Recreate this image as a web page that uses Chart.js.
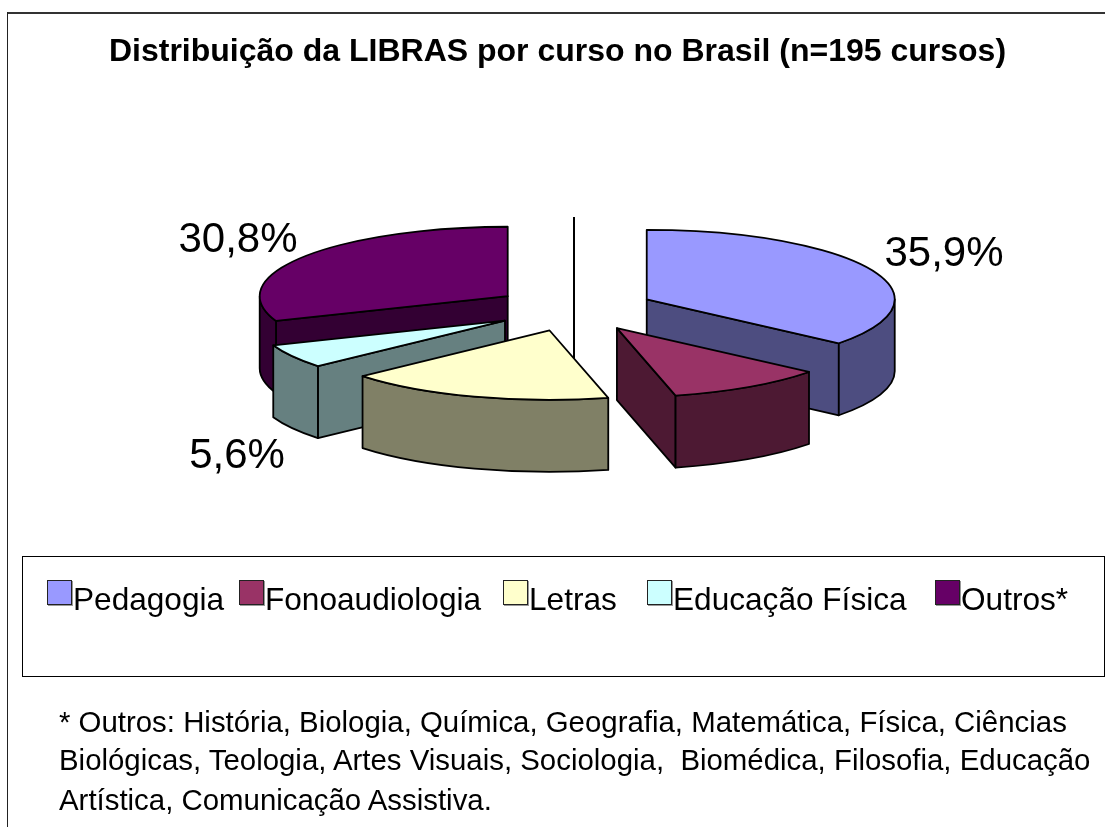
<!DOCTYPE html>
<html>
<head>
<meta charset="utf-8">
<title>Distribuição da LIBRAS por curso no Brasil</title>
<script src="https://cdn.jsdelivr.net/npm/chart.js@4"></script>
<style>
html, body { margin: 0; padding: 0; background: #fff; }
body { position: relative; width: 1105px; height: 827px; overflow: hidden; font-family: "Liberation Sans", Arial, sans-serif; color: #000; }
#pie_chart { position: absolute; left: 0; top: 0; }
#frame_top { position: absolute; left: 7px; top: 12px; width: 1098px; height: 2px; background: #333; }
#frame_left { position: absolute; left: 7px; top: 12px; width: 1px; height: 815px; background: #222; }
#legend_box { position: absolute; left: 22px; top: 556px; width: 1081px; height: 119px; border: 1px solid #000; }
.legend_mark { position: absolute; top: 580px; width: 23px; height: 23px; border: 1.5px solid #222; box-shadow: 1px 1px 0 #999; }
.legend_text { position: absolute; top: 581px; font-size: 31.6px; line-height: 36px; white-space: pre; }
.note_line { position: absolute; left: 59px; font-size: 29.4px; line-height: 32px; white-space: pre; }
</style>
</head>
<body>
<canvas id="pie_chart" width="1105" height="827"></canvas>
<div id="frame_top"></div>
<div id="frame_left"></div>
<div id="legend_box"></div>
<div id="legend_items"></div>
<div id="notes"></div>

<script>
var chart_title = "Distribuição da LIBRAS por curso no Brasil (n=195 cursos)";
var course_labels = ["Pedagogia", "Fonoaudiologia", "Letras", "Educação Física", "Outros*"];
var course_values = [35.9, 10.3, 17.4, 5.6, 30.8];
var shown_labels = [true, false, false, true, true];
var top_colors = ["#9999FF", "#993366", "#FFFFCC", "#CCFFFF", "#660066"];
var side_colors = ["#4D4D80", "#4D1933", "#808066", "#668080", "#330033"];
var note_lines = [
	"* Outros: História, Biologia, Química, Geografia, Matemática, Física, Ciências",
	"Biológicas, Teologia, Artes Visuais, Sociologia,  Biomédica, Filosofia, Educação",
	"Artística, Comunicação Assistiva."
];

// layout only
var pie_radius = 248, pie_y = 309, pie_shift = 16.5, tilt = 0.28, depth = 72, explode = 80.5;
var label_shift = [[370, -55], null, null, [-337, 147], [-336, -69]];
var legend_mark_x = [47, 239, 503, 647, 935];
var legend_text_x = [73, 265, 529, 673, 961];
var note_y = [706, 744, 784];

function slice_path(ctx, cx, cy, a0, a1) {
	ctx.beginPath();
	ctx.ellipse(cx, cy, pie_radius, pie_radius * tilt, 0, a0, a1);
	ctx.lineTo(cx, cy);
	ctx.closePath();
}

function edge_wall(ctx, cx, cy, a) {
	var ex = cx + Math.cos(a) * pie_radius;
	var ey = cy + Math.sin(a) * pie_radius * tilt;
	ctx.beginPath();
	ctx.moveTo(cx, cy);
	ctx.lineTo(ex, ey);
	ctx.lineTo(ex, ey + depth);
	ctx.lineTo(cx, cy + depth);
	ctx.closePath();
	ctx.fill();
	ctx.stroke();
}

function draw_slice(chart, arc, i) {
	var ctx = chart.ctx;
	var p = arc.getProps(["x", "y", "startAngle", "endAngle"], true);
	var mid = (p.startAngle + p.endAngle) / 2;
	var cx = p.x + pie_shift + Math.cos(mid) * explode;
	var cy = pie_y + Math.sin(mid) * explode * tilt;

	ctx.save();
	ctx.fillStyle = side_colors[i];
	ctx.strokeStyle = "#000";
	ctx.lineWidth = 1.8;
	ctx.lineJoin = "round";

	// straight walls that face the viewer
	if (Math.cos(p.startAngle) < -0.001) edge_wall(ctx, cx, cy, p.startAngle);
	if (Math.cos(p.endAngle) > 0.001) edge_wall(ctx, cx, cy, p.endAngle);

	// curved wall, front half only
	var lo = Math.max(p.startAngle, 0), hi = Math.min(p.endAngle, Math.PI);
	if (hi > lo) {
		ctx.beginPath();
		ctx.ellipse(cx, cy, pie_radius, pie_radius * tilt, 0, lo, hi);
		ctx.ellipse(cx, cy + depth, pie_radius, pie_radius * tilt, 0, hi, lo, true);
		ctx.closePath();
		ctx.fill();
		ctx.stroke();
	}

	// top face is the library's own arc, flattened
	ctx.save();
	ctx.translate(cx - p.x, cy);
	ctx.scale(1, tilt);
	ctx.translate(0, -p.y);
	arc.draw(ctx);
	ctx.restore();

	slice_path(ctx, cx, cy, p.startAngle, p.endAngle);
	ctx.stroke();
	ctx.restore();
}

var pie3d = {
	id: "pie3d",
	beforeDatasetsDraw: function(chart) {
		var ctx = chart.ctx;
		var arcs = chart.getDatasetMeta(0).data;
		var x = arcs[0].x + pie_shift;

		// leader line behind the slices
		ctx.save();
		ctx.strokeStyle = "#000";
		ctx.lineWidth = 2;
		ctx.beginPath();
		ctx.moveTo(x, pie_y - 92);
		ctx.lineTo(x, pie_y + 70);
		ctx.stroke();
		ctx.restore();

		var order = arcs.map(function(a, i) { return i; });
		function depth_key(i) {
			return Math.sin((arcs[i].startAngle + arcs[i].endAngle) / 2);
		}
		order.sort(function(a, b) { return depth_key(a) - depth_key(b); });
		order.forEach(function(i) { draw_slice(chart, arcs[i], i); });
		return false;
	},
	afterDraw: function(chart) {
		var ctx = chart.ctx;
		var x = chart.getDatasetMeta(0).data[0].x + pie_shift;
		ctx.save();
		ctx.fillStyle = "#000";
		ctx.font = '42px "Liberation Sans", Arial, sans-serif';
		ctx.textAlign = "center";
		ctx.textBaseline = "middle";
		course_values.forEach(function(v, i) {
			if (!shown_labels[i]) return;
			var text = v.toFixed(1).replace(".", ",") + "%";
			ctx.fillText(text, x + label_shift[i][0], pie_y + label_shift[i][1]);
		});
		ctx.restore();
	}
};

function load_legend() {
	var html = "";
	course_labels.forEach(function(label, i) {
		html += '<div class="legend_mark" style="left:' + legend_mark_x[i] + 'px;background:' + top_colors[i] + '"></div>';
		html += '<div class="legend_text" style="left:' + legend_text_x[i] + 'px">' + label + '</div>';
	});
	document.getElementById("legend_items").innerHTML = html;
}

function load_notes() {
	var html = "";
	note_lines.forEach(function(line, i) {
		html += '<div class="note_line" style="top:' + note_y[i] + 'px">' + line + '</div>';
	});
	document.getElementById("notes").innerHTML = html;
}

function load_pie_chart() {
	new Chart(document.getElementById("pie_chart"), {
		type: "pie",
		data: {
			labels: course_labels,
			datasets: [{
				data: course_values,
				backgroundColor: top_colors,
				borderWidth: 0,
				offset: 0,
				radius: pie_radius
			}]
		},
		options: {
			responsive: false,
			animation: false,
			devicePixelRatio: 1,
			layout: { padding: { left: 10 } },
			plugins: {
				legend: { display: false },
				tooltip: { enabled: false },
				title: {
					display: true,
					text: chart_title,
					color: "#000",
					font: { family: '"Liberation Sans", Arial, sans-serif', size: 32, weight: "bold" },
					padding: { top: 33, bottom: 0 }
				}
			}
		},
		plugins: [pie3d]
	});
}

load_legend();
load_notes();
load_pie_chart();
</script>
</body>
</html>
